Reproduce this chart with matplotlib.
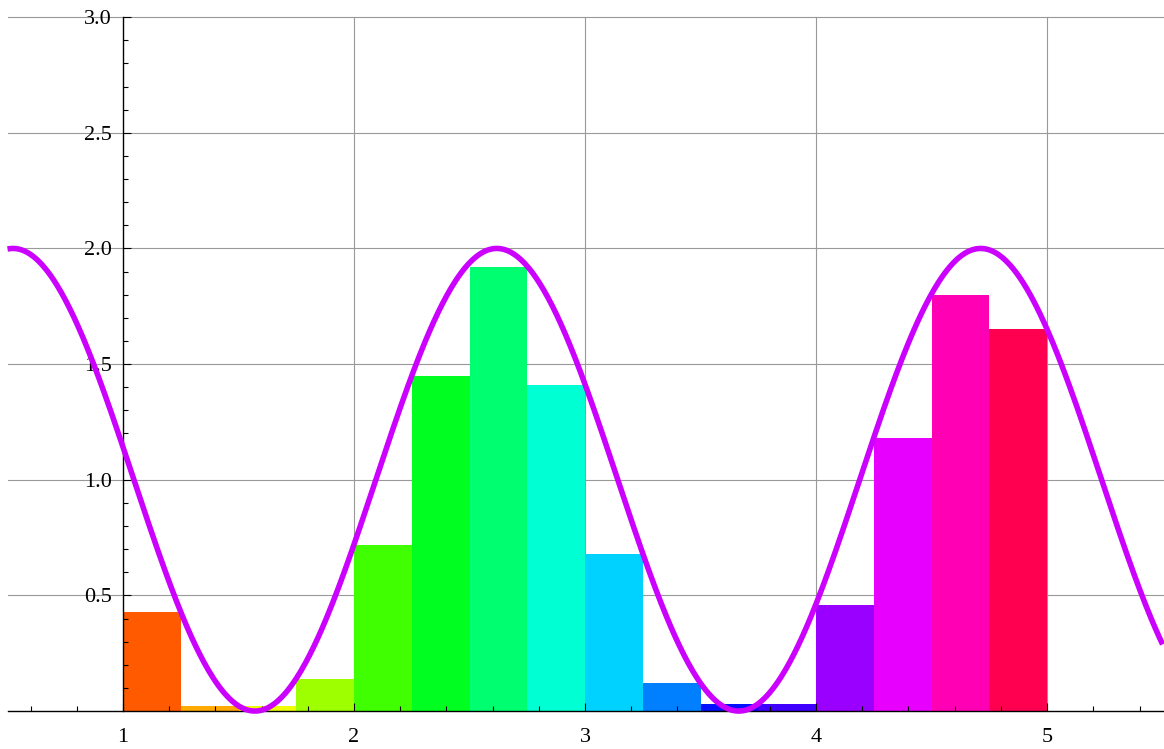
import numpy as np
import matplotlib.pyplot as plt
from matplotlib.ticker import FixedLocator

# bar data: left edges, heights, colours
bin_left = [1.0, 1.25, 1.5, 1.75, 2.0, 2.25, 2.5, 2.75,
            3.0, 3.25, 3.5, 3.75, 4.0, 4.25, 4.5, 4.75]
bin_height = [0.43, 0.02, 0.02, 0.14, 0.72, 1.45, 1.92, 1.41,
              0.68, 0.12, 0.03, 0.03, 0.46, 1.18, 1.80, 1.65]
bin_color = ["#ff5a00", "#ffaa00", "#f0ff00", "#9eff00", "#40ff00", "#00ff20",
             "#00ff70", "#00ffd2", "#00d2ff", "#0080ff", "#0010ff", "#3f00ff",
             "#9900ff", "#e800ff", "#ff00b4", "#ff0050"]
bin_width = 0.25

# overlaid curve 1 + sin(3x)
curve_offset = 1.0
curve_amp = 1.0
curve_freq = 3.0
x_curve = np.linspace(0.5, 5.5, 800)
y_curve = curve_offset + curve_amp * np.sin(curve_freq * x_curve)

xticks = [1, 2, 3, 4, 5]
yticks = [0.5, 1.0, 1.5, 2.0, 2.5, 3.0]
xminor = [0.6, 0.8, 1.2, 1.4, 1.6, 1.8, 2.2, 2.4, 2.6, 2.8, 3.2, 3.4,
          3.6, 3.8, 4.2, 4.4, 4.6, 4.8, 5.2, 5.4]
yminor = [0.1, 0.2, 0.3, 0.4, 0.6, 0.7, 0.8, 0.9, 1.1, 1.2, 1.3, 1.4,
          1.6, 1.7, 1.8, 1.9, 2.1, 2.2, 2.3, 2.4, 2.6, 2.7, 2.8, 2.9]

fig = plt.figure(figsize=(11.64, 7.49), dpi=100)
ax = fig.add_axes([0, 0, 1, 1])

for y in yticks:
    ax.plot([0.5, 5.5], [y, y], color="#999999", lw=0.8, zorder=0)
for x in xticks[1:]:
    ax.plot([x, x], [0, 3.0], color="#999999", lw=0.8, zorder=0)

ax.bar(bin_left, bin_height, width=bin_width, align="edge",
       color=bin_color, linewidth=0, zorder=1)
ax.plot(x_curve, y_curve, color="#cc00ff", lw=4.0, zorder=3,
        solid_capstyle="butt")

ax.set_xlim(0.4675, 5.506)
ax.set_ylim(-0.164, 3.074)

ax.spines["top"].set_visible(False)
ax.spines["right"].set_visible(False)
ax.spines["left"].set_position(("data", 1))
ax.spines["bottom"].set_position(("data", 0))
ax.spines["left"].set_bounds(0, 3.0)
ax.spines["bottom"].set_bounds(0.5, 5.5)
ax.spines["left"].set_linewidth(1.0)
ax.spines["bottom"].set_linewidth(1.0)

ax.set_xticks(xticks)
ax.set_yticks(yticks)
ax.set_xticklabels([str(t) for t in xticks])
ax.set_yticklabels([f"{t:.1f}" for t in yticks])
ax.xaxis.set_minor_locator(FixedLocator(xminor))
ax.yaxis.set_minor_locator(FixedLocator(yminor))
ax.tick_params(which="both", direction="in", width=0.8, color="black")
ax.tick_params(which="major", length=6)
ax.tick_params(which="minor", length=3.6)
ax.tick_params(axis="x", which="major", pad=12)
ax.tick_params(axis="y", which="major", pad=8)
for lab in ax.get_xticklabels() + ax.get_yticklabels():
    lab.set_fontfamily("Liberation Serif")
    lab.set_fontsize(16)

fig.savefig("out.png", dpi=100)
